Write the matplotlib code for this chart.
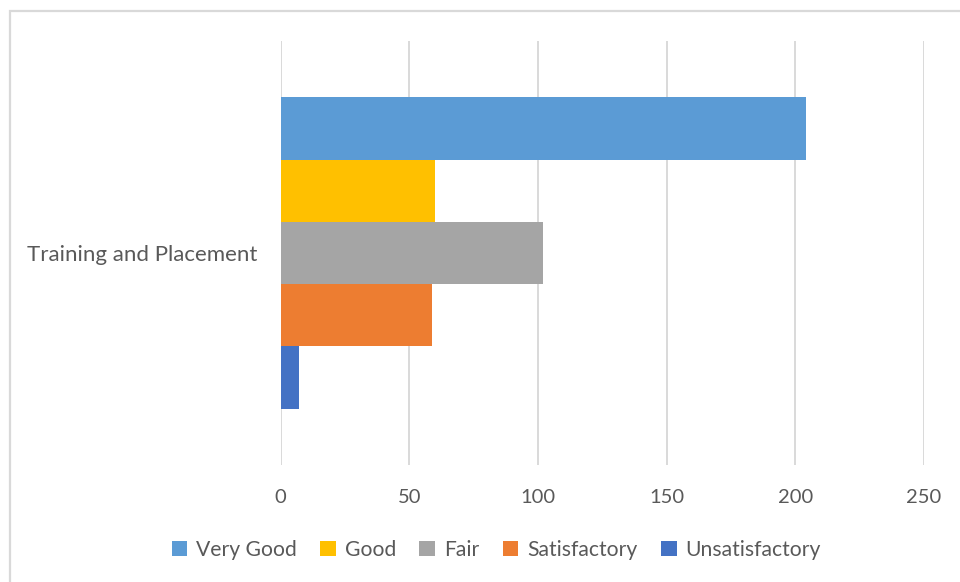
import matplotlib
matplotlib.use("Agg")
import matplotlib.pyplot as plt
from matplotlib.patches import Rectangle

category = "Training and Placement"
series = ["Very Good", "Good", "Fair", "Satisfactory", "Unsatisfactory"]
values = [204, 60, 102, 59, 7]
colors = ["#5B9BD5", "#FFC000", "#A5A5A5", "#ED7D31", "#4472C4"]
xticks = [0, 50, 100, 150, 200, 250]

plt.rcParams['font.family'] = ['Lato', 'DejaVu Sans']
txt = "#595959"
grid = "#D9D9D9"

fig = plt.figure(figsize=(9.6, 5.82), dpi=100)
ax = fig.add_axes([280.5/960, 1-465/582, (924-280.5)/960, (465-41)/582])

n = len(series)
bh = 0.147
for i, (s, v, c) in enumerate(zip(series, values, colors)):
    y = (n - 1) / 2 * bh - i * bh
    ax.barh(y, v, height=bh, color=c, label=s, zorder=3)

ax.set_xlim(0, 250)
ax.set_ylim(-0.5, 0.5)
ax.set_xticks(xticks)
ax.set_xticklabels([str(t) for t in xticks])
ax.set_yticks([0])
ax.set_yticklabels([category])
ax.tick_params(axis='both', length=0, labelcolor=txt)
ax.tick_params(axis='x', pad=17, labelsize=14.5)
ax.tick_params(axis='y', pad=16.4, labelsize=16)
for sp in ax.spines.values():
    sp.set_visible(False)
ax.grid(axis='x', color=grid, linewidth=1.4, zorder=0)

handles, labels = ax.get_legend_handles_labels()
leg = fig.legend(handles, labels, loc='center', bbox_to_anchor=(496/960, 1-550/582),
                 ncol=5, frameon=False, fontsize=15.2, handlelength=0.75, handleheight=0.75,
                 handletextpad=0.4, columnspacing=1.12, labelcolor=txt)

fig.patches.append(Rectangle((10/960, -0.1), 1.2, 1.1 - 11/582, transform=fig.transFigure,
                             fill=False, edgecolor=grid, linewidth=1.6))

fig.savefig("out.png", dpi=100, facecolor="white")
